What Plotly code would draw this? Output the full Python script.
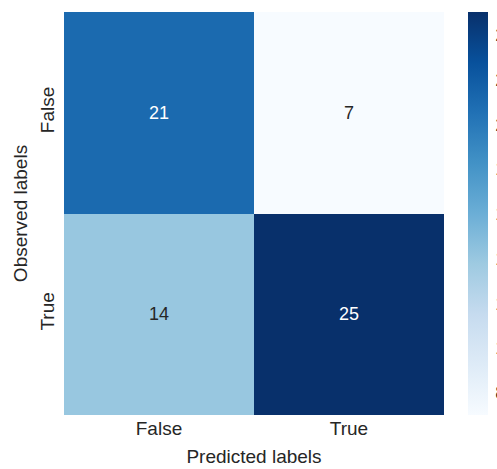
import plotly.graph_objects as go

# Confusion matrix counts (rows = observed, columns = predicted)
class_labels = ["False", "True"]
counts = [
    [21, 7],
    [14, 25],
]
cbar_ticks = [8, 10, 12, 14, 16, 18, 20, 22, 24]

blues = [
    [0.000, "rgb(247,251,255)"],
    [0.125, "rgb(222,235,247)"],
    [0.250, "rgb(198,219,239)"],
    [0.375, "rgb(158,202,225)"],
    [0.500, "rgb(107,174,214)"],
    [0.625, "rgb(66,146,198)"],
    [0.750, "rgb(33,113,181)"],
    [0.875, "rgb(8,81,156)"],
    [1.000, "rgb(8,48,107)"],
]

zmin = min(min(r) for r in counts)
zmax = max(max(r) for r in counts)
text_dark = "#262626"

fig = go.Figure(
    go.Heatmap(
        z=counts,
        x=class_labels,
        y=class_labels,
        colorscale=blues,
        zmin=zmin,
        zmax=zmax,
        colorbar=dict(
            x=(468 - 64) / 380,
            xanchor="left",
            y=0.5,
            yanchor="middle",
            len=1.0,
            lenmode="fraction",
            thickness=20,
            thicknessmode="pixels",
            outlinewidth=0,
            xpad=0,
            ypad=0,
            tickvals=cbar_ticks,
            ticks="outside",
            ticklen=4,
            tickcolor="rgba(0,0,0,0)",
            tickfont=dict(size=19, color=text_dark),
        ),
        hoverinfo="skip",
    )
)

# Cell value annotations with contrast-aware colour
mid = (zmin + zmax) / 2
for i, row_lab in enumerate(class_labels):
    for j, col_lab in enumerate(class_labels):
        v = counts[i][j]
        fig.add_annotation(
            x=col_lab,
            y=row_lab,
            text=str(v),
            showarrow=False,
            font=dict(size=18, color="white" if v > mid else text_dark),
        )

fig.update_xaxes(
    title=dict(text="Predicted labels", font=dict(size=19, color=text_dark), standoff=11),
    tickfont=dict(size=19, color=text_dark),
    showgrid=False,
    zeroline=False,
    ticks="",
)
fig.update_yaxes(
    title=dict(text="Observed labels", font=dict(size=19, color=text_dark), standoff=4),
    tickfont=dict(size=19, color=text_dark),
    tickangle=-90,
    autorange="reversed",
    showgrid=False,
    zeroline=False,
    ticks="outside",
    ticklen=1,
    tickcolor="rgba(0,0,0,0)",
)

fig.update_layout(
    width=497,
    height=469,
    margin=dict(l=64, r=53, t=12, b=54, autoexpand=False),
    paper_bgcolor="white",
    plot_bgcolor="white",
    font=dict(family="Liberation Sans, Arial, sans-serif", color=text_dark),
)

fig.write_html("out.html")
